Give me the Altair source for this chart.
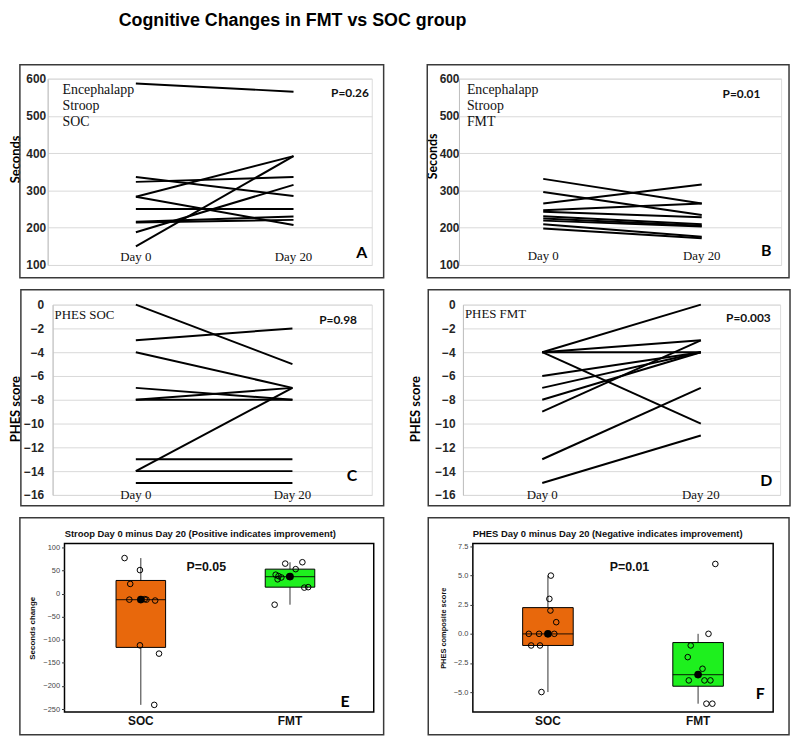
import math
import altair as alt
import numpy as np
import pandas as pd

# ---------------- data ----------------
DAYS = ["Day 0", "Day 20"]

A_DAY0 = [587, 336, 323, 283, 283, 250, 216, 214, 188, 150]
A_DAY20 = [565, 285, 336, 392, 207, 250, 230, 221, 315, 392]
B_DAY0 = [331, 296, 265, 247, 243, 231, 225, 219, 209, 198]
B_DAY20 = [265, 234, 316, 265, 228, 209, 205, 203, 176, 172]
C_DAY0 = [0, -3, -4, -7, -8, -8, -13, -14, -14, -15]
C_DAY20 = [-5, -2, -7, -8, -7, -8, -13, -14, -7, -15]
D_DAY0 = [-4, -4, -4, -4, -6, -7, -8, -9, -13, -15]
D_DAY20 = [0, -3, -4, -10, -4, -4, -4, -3, -7, -11]

SEC_TICKS = [100, 200, 300, 400, 500, 600]
PHES_TICKS = [-16, -14, -12, -10, -8, -6, -4, -2, 0]

GROUPS = ["SOC", "FMT"]
BOX_COLORS = ["#E8680C", "#1EF01E"]

E_SOC = [77, 51, 21, -12, -13, -13, -15, -112, -130, -241]
E_SOC_JIT = [-0.109, -0.006, -0.071, 0.026, 0.038, -0.077, 0.096, -0.006, 0.122, 0.09]
E_FMT = [68, 65, 53, 41, 38, 37, 35, 31, 14, 13, -24]
E_FMT_JIT = [0.083, -0.032, 0.038, -0.096, -0.077, -0.006, -0.058, -0.083, 0.122, 0.096, -0.103]
F_SOC = [5, 3, 2, 1, 0, 0, 0, -1, -1, -5]
F_SOC_JIT = [0.023, 0.013, 0.02, 0.059, -0.125, -0.056, 0.046, -0.109, -0.05, -0.04]
F_FMT = [6, 0, -1, -2, -3, -4, -4, -4, -6, -6]
F_FMT_JIT = [0.119, 0.073, -0.046, -0.066, 0.033, -0.059, 0.046, 0.086, 0.059, 0.099]

E_TICKS = [-250, -200, -150, -100, -50, 0, 50, 100]
F_TICKS = [-5.0, -2.5, 0.0, 2.5, 5.0, 7.5]

MAIN_TITLE = "Cognitive Changes in FMT vs SOC group"

SANS = "Liberation Sans"
SERIF = "Liberation Serif"
CAL = "Lato"


# ---------------- helpers ----------------
def txt(text, x, y, **kw):
    return alt.Chart(pd.DataFrame({"t": [text]})).mark_text(**kw).encode(
        x=alt.value(x), y=alt.value(y), text="t:N"
    )


def frame(x0, x1, y0, y1):
    return alt.Chart(pd.DataFrame({"f": [0]})).mark_rect(
        fill="transparent", stroke="#3a3a3a", strokeWidth=1.5
    ).encode(x=alt.value(x0), x2=alt.value(x1), y=alt.value(y0), y2=alt.value(y1))


def spacer(w):
    # empty layout cell: only its width is used by the row layout
    return alt.Chart(pd.DataFrame({"s": [0]})).mark_rect(
        opacity=0, fillOpacity=0, strokeOpacity=0
    ).encode(
        x=alt.value(0), x2=alt.value(0), y=alt.value(0), y2=alt.value(0)
    ).properties(
        width=w, height=1,
        view=alt.ViewBackground(stroke="transparent", fill="transparent",
                                strokeOpacity=0, fillOpacity=0),
    )


def line_panel(d0, d20, w, h, domain, ticks, ytitle, tx, ty, tsize, lpad, pad, align,
               note, note_xy, note_size, pval, p_xy, letter, l_xy, day_y, fr,
               extra=None):
    n = len(d0)
    df = pd.DataFrame({
        "subject": list(range(n)) * 2,
        "day": [DAYS[0]] * n + [DAYS[1]] * n,
        "value": list(d0) + list(d20),
    })
    xs = alt.Scale(type="point", domain=DAYS, padding=pad, align=align)
    x = alt.X("day:N", scale=xs, axis=None)
    y = alt.Y(
        "value:Q",
        scale=alt.Scale(domain=domain, nice=False, zero=False),
        axis=alt.Axis(
            values=ticks, title=ytitle, grid=True, gridColor="#d9d9d9", gridWidth=1,
            domain=True, domainColor="#bfbfbf", ticks=False, labelPadding=lpad,
            labelOverlap=False,
            labelFont=SANS, labelFontSize=12, labelFontWeight="bold", labelColor="#262626",
            titleFont=CAL, titleFontSize=tsize, titleFontWeight="bold", titleColor="#000000",
            titleX=tx, titleY=ty, titleBaseline="middle",
        ),
    )
    lines = alt.Chart(df).mark_line(color="black", strokeWidth=2).encode(
        x=x, y=y, detail="subject:N"
    )
    days = alt.Chart(pd.DataFrame({"day": DAYS})).mark_text(
        font=SERIF, fontSize=13, color="#111111", baseline="middle"
    ).encode(x=x, y=alt.value(day_y), text="day:N")
    layers = [lines, days,
              txt(note, note_xy[0], note_xy[1], font=SERIF, fontSize=note_size, align="left",
                  baseline="top", lineBreak="\n", lineHeight=16, color="#111111"),
              txt(pval, p_xy[0], p_xy[1], font=CAL, fontSize=12, fontWeight="bold",
                  align="center", baseline="middle", color="#111111"),
              txt(letter, l_xy[0], l_xy[1], font=CAL, fontSize=16, fontWeight="bold",
                  align="center", baseline="middle", color="#000000"),
              frame(*fr)]
    if extra is not None:
        layers.extend(extra)
    return alt.layer(*layers).properties(width=w, height=h)


def mt_quantile(vals, p):
    s = sorted(vals)
    n = len(s)
    pos = p * (n + 1)
    lo = int(math.floor(pos))
    frac = pos - lo
    if lo < 1:
        return s[0]
    if lo >= n:
        return s[-1]
    return s[lo - 1] + frac * (s[lo] - s[lo - 1])


def box_stats(vals):
    q1 = mt_quantile(vals, 0.25)
    q3 = mt_quantile(vals, 0.75)
    med = float(np.median(vals))
    iqr = q3 - q1
    lo = min(v for v in vals if v >= q1 - 1.5 * iqr)
    hi = max(v for v in vals if v <= q3 + 1.5 * iqr)
    return q1, q3, med, lo, hi


def box_panel(soc, soc_j, fmt, fmt_j, w, h, domain, ticks, fmt_str, ytitle, ytsize, tx,
              pouter, align, bsize, title, t_xy, pval, p_xy, letter, l_xy, fr):
    pts = pd.DataFrame({
        "group": [GROUPS[0]] * len(soc) + [GROUPS[1]] * len(fmt),
        "value": list(soc) + list(fmt),
        "jit": list(soc_j) + list(fmt_j),
    })
    rows = []
    for g, v in zip(GROUPS, [soc, fmt]):
        q1, q3, med, lo, hi = box_stats(v)
        rows.append({"group": g, "q1": q1, "q3": q3, "med": med, "lo": lo, "hi": hi})
    st = pd.DataFrame(rows)
    xs = alt.Scale(type="band", domain=GROUPS, paddingInner=0, paddingOuter=pouter, align=align)
    x = alt.X("group:N", scale=xs, axis=alt.Axis(
        title=None, labelAngle=0, ticks=False, domain=False, labelPadding=4,
        labelFont=SANS, labelFontSize=12, labelFontWeight="bold", labelColor="#111111"))
    ysc = alt.Scale(domain=domain, nice=False, zero=False)
    yax = alt.Axis(
        values=ticks, format=fmt_str, grid=False, domain=False, ticks=True, tickSize=3,
        tickColor="#333333", labelPadding=2, labelFont=SANS, labelFontSize=7.5,
        labelOverlap=False, labelSeparation=0, labelBound=False,
        labelColor="#444444", title=ytitle, titleFont=SANS, titleFontSize=ytsize,
        titleFontWeight="bold", titleColor="#111111", titleX=tx, titleBaseline="middle")

    def Y(field):
        return alt.Y(field, scale=ysc, axis=yax)

    whisk = alt.Chart(st).mark_rule(color="#333333", strokeWidth=1).encode(
        x=x, y=Y("lo:Q"), y2="hi:Q")
    box = alt.Chart(st).mark_bar(size=bsize, stroke="black", strokeWidth=1).encode(
        x=x, y=Y("q3:Q"), y2="q1:Q",
        fill=alt.Fill("group:N", scale=alt.Scale(domain=GROUPS, range=BOX_COLORS), legend=None))
    med = alt.Chart(st).mark_tick(orient="horizontal", size=bsize, thickness=1.2,
                                  color="black").encode(x=x, y=Y("med:Q"))
    points = alt.Chart(pts).mark_point(filled=False, color="black", size=32,
                                       strokeWidth=1, opacity=1).encode(
        x=x, xOffset=alt.XOffset("jit:Q", scale=alt.Scale(domain=[-0.5, 0.5])),
        y=Y("value:Q"))
    dot = alt.Chart(st).mark_point(filled=True, color="black", size=60, opacity=1).encode(
        x=x, y=Y("med:Q"))
    return alt.layer(
        whisk, box, med, points, dot,
        txt(title, t_xy[0], t_xy[1], font=SANS, fontSize=9.5, fontWeight="bold",
            align="center", baseline="middle", color="#111111"),
        txt(pval, p_xy[0], p_xy[1], font=SANS, fontSize=12.5, fontWeight="bold",
            align="center", baseline="middle", color="#111111"),
        txt(letter, l_xy[0], l_xy[1], font=CAL, fontSize=16, fontWeight="bold",
            align="center", baseline="middle", color="#000000"),
        frame(*fr),
    ).properties(width=w, height=h, view=alt.ViewBackground(stroke="black", strokeWidth=1.5))


# ---------------- panels ----------------
main_title = txt(MAIN_TITLE, 247, -58, font=SANS, fontSize=18, fontWeight="bold",
                 align="center", baseline="middle", color="#000000")

pA = line_panel(A_DAY0, A_DAY20, 327, 188, [100, 600], SEC_TICKS, "Seconds", -32, 81, 13, 2,
                0.528, 0.53, "Encephalapp\nStroop\nSOC", (15, 5), 14, "P=0.26", (305, 15),
                "A", (317, 176), 180, (-28, 339, -14, 201), extra=[main_title])
pB = line_panel(B_DAY0, B_DAY20, 325, 188, [100, 600], SEC_TICKS, "Seconds", -27, 78, 12.5, 0,
                0.516, 0.515, "Encephalapp\nStroop\nFMT", (8, 5), 14, "P=0.01", (285, 16),
                "B", (310, 174), 179, (-32, 333, -14, 201))
pC = line_panel(C_DAY0, C_DAY20, 322, 192, [-16, 0], PHES_TICKS, "PHES score", -37, 105, 13, 9,
                0.519, 0.512, "PHES SOC", (2, 5), 13, "P=0.98", (288, 16),
                "C", (302, 173), 192, (-32, 334, -15, 203))
pD = line_panel(D_DAY0, D_DAY20, 320, 192, [-16, 0], PHES_TICKS, "PHES score", -48, 105, 13, 8,
                0.5, 0.5, "PHES FMT", (2, 3), 13, "P=0.003", (288, 14),
                "D", (306, 178), 192, (-35, 330, -15, 203))
pE = box_panel(E_SOC, E_SOC_JIT, E_FMT, E_FMT_JIT, 312, 170, [-256.4, 108.6], E_TICKS, "d",
               "Seconds change", 8, -32, 0.0365, 0.16, 50,
               "Stroop Day 0 minus Day 20 (Positive indicates improvement)", (137, -10),
               "P=0.05", (143, 24), "E", (283, 160), (-45, 322, -26, 193))
pF = box_panel(F_SOC, F_SOC_JIT, F_FMT, F_FMT_JIT, 303, 170, [-6.712, 7.757], F_TICKS, ".1f",
               "PHES composite score", 7.5, -30, 0.0, 0.5, 51,
               "PHES Day 0 minus Day 20 (Negative indicates improvement)", (136, -10),
               "P=0.01", (158, 24), "F", (290, 152), (-45, 319, -26, 193))

row1 = alt.hconcat(spacer(40), pA, spacer(88), pB, spacing=0, bounds="flush")
row2 = alt.hconcat(spacer(45), pC, spacer(92), pD, spacing=0, bounds="flush")
row3 = alt.hconcat(spacer(57), pE, spacer(100), pF, spacing=0, bounds="flush")

chart = alt.vconcat(row1, row2, row3, spacing=8).properties(padding=0).configure_view(
    stroke="transparent"
).configure(background="white")

chart.save("out.html", embed_options={"renderer": "svg", "actions": False})
